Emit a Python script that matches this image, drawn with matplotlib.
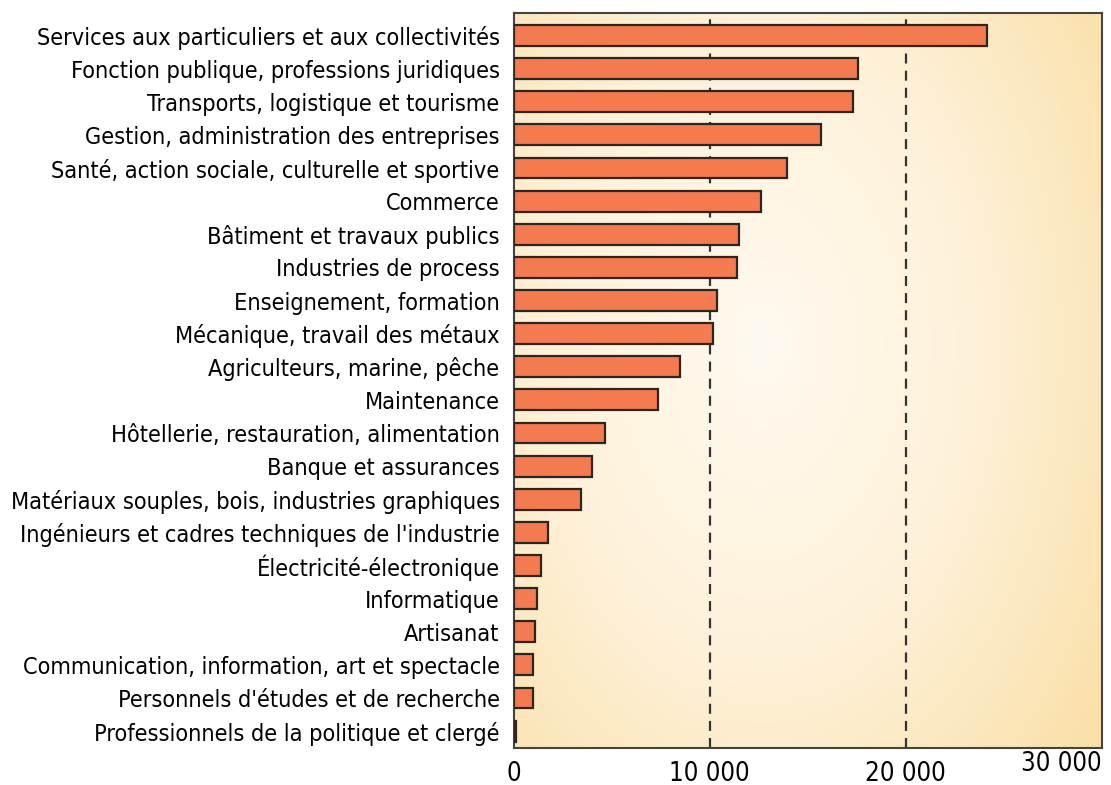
import numpy as np
import matplotlib.pyplot as plt
from matplotlib.colors import LinearSegmentedColormap
from matplotlib.transforms import ScaledTranslation

# Categories (top to bottom) and values
categories = [
    "Services aux particuliers et aux collectivités",
    "Fonction publique, professions juridiques",
    "Transports, logistique et tourisme",
    "Gestion, administration des entreprises",
    "Santé, action sociale, culturelle et sportive",
    "Commerce",
    "Bâtiment et travaux publics",
    "Industries de process",
    "Enseignement, formation",
    "Mécanique, travail des métaux",
    "Agriculteurs, marine, pêche",
    "Maintenance",
    "Hôtellerie, restauration, alimentation",
    "Banque et assurances",
    "Matériaux souples, bois, industries graphiques",
    "Ingénieurs et cadres techniques de l'industrie",
    "Électricité-électronique",
    "Informatique",
    "Artisanat",
    "Communication, information, art et spectacle",
    "Personnels d'études et de recherche",
    "Professionnels de la politique et clergé",
]
values = [24150, 17550, 17300, 15650, 13950, 12600, 11500, 11400, 10380, 10150,
          8480, 7360, 4670, 4000, 3430, 1780, 1420, 1210, 1090, 1010, 990, 150]

xticks = [0, 10000, 20000, 30000]
xtick_labels = ["0", "10 000", "20 000", "30 000"]

plt.rcParams['font.family'] = ['DejaVu Sans']
plt.rcParams['font.stretch'] = 'condensed'

fig = plt.figure(figsize=(11.11, 7.85), dpi=100)
ax = fig.add_axes([0.4622, 0.0471, 0.5297, 0.9363])

# radial background gradient
gx, gy = np.meshgrid(np.linspace(0, 1, 300), np.linspace(0, 1, 300))
r = np.sqrt(((gx - 0.42) / 0.75) ** 2 + ((gy - 0.55) / 0.9) ** 2)
r = np.clip(r / r.max(), 0, 1)
cmap = LinearSegmentedColormap.from_list("bg", ["#FFFAF0", "#FEF1D8", "#FADFA6"])
ax.imshow(r, cmap=cmap, extent=[0, 1, 0, 1], transform=ax.transAxes,
          aspect='auto', zorder=0, origin='lower')

y = np.arange(len(categories))
ax.barh(y, values, height=0.63, color='#F47B50', edgecolor='#2E2520',
        linewidth=1.6, zorder=3)

for xv in [10000, 20000]:
    ax.axvline(xv, color='#333333', linestyle=(0, (4.5, 3.2)), linewidth=1.6, zorder=2)

ax.set_xlim(0, 30000)
ax.set_ylim(21.51, -0.68)
ax.set_yticks(y)
ax.set_yticklabels(categories, fontsize=16.8)
ax.set_xticks(xticks)
ax.set_xticklabels(xtick_labels, fontsize=18.5)
ax.tick_params(length=0)
ax.tick_params(axis='y', pad=10)
ax.tick_params(axis='x', pad=9)
xl = ax.get_xticklabels()
xl[-1].set_ha('right')
xl[-1].set_transform(xl[-1].get_transform() + ScaledTranslation(0, 0.1, fig.dpi_scale_trans))
for s in ax.spines.values():
    s.set_color('#444444')
    s.set_linewidth(1.5)

fig.savefig("out.png", dpi=100)
